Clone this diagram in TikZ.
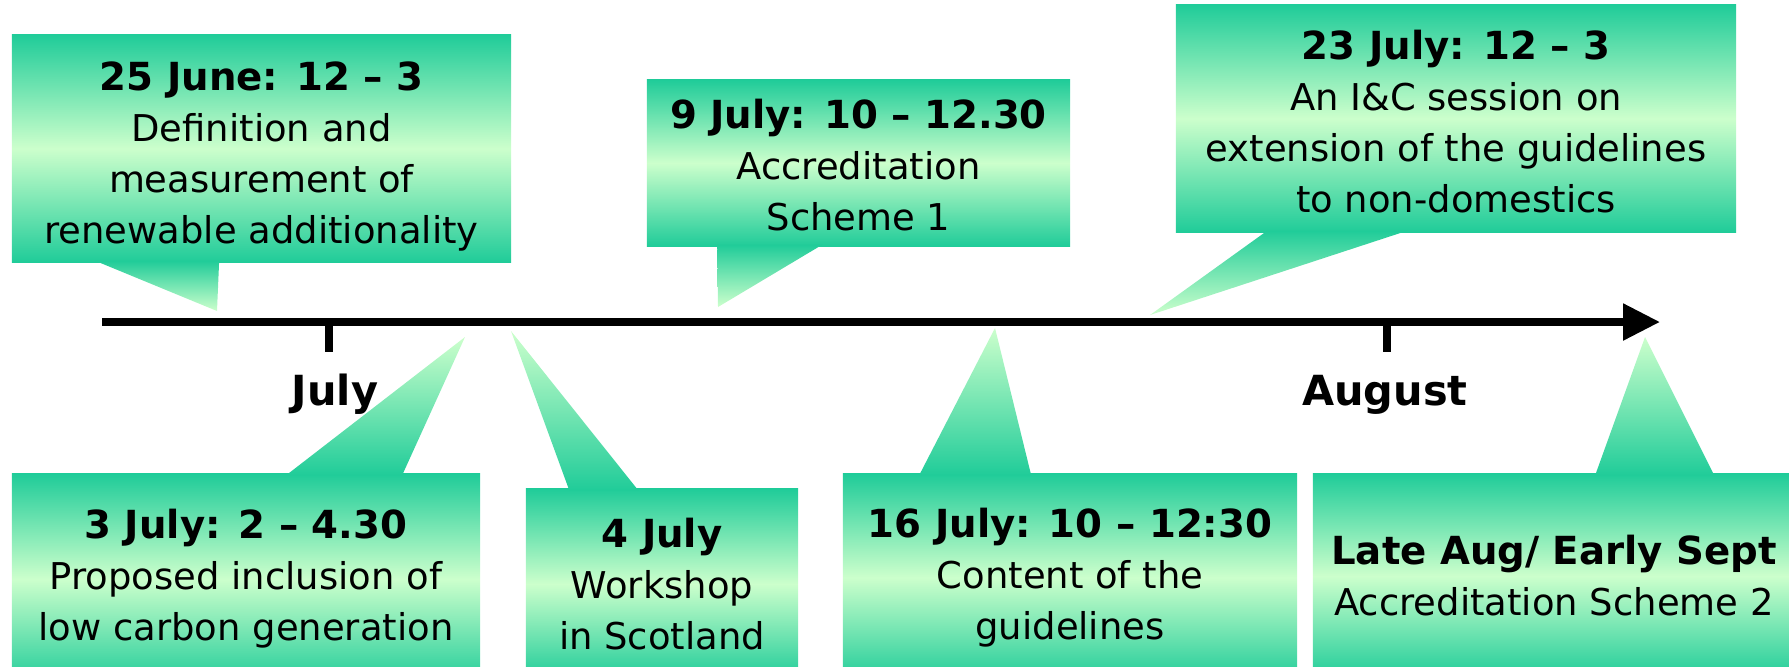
\documentclass[tikz,border=0pt]{standalone}
\usepackage{fontspec}
\setmainfont{DejaVu Sans}
\usetikzlibrary{arrows.meta,calc}
\definecolor{calloutdark}{RGB}{32,204,153}
\definecolor{calloutlight}{RGB}{204,255,204}
\newcommand{\when}[1]{{\fontsize{11}{14.5}\selectfont\bfseries #1}}

\begin{document}
\begin{tikzpicture}[x=0.01cm, y=-0.01cm,
    callout/.style={inner sep=0pt, align=center, top color=calloutdark,
        bottom color=calloutdark, middle color=calloutlight,
        font=\fontsize{10.5}{14.5}\selectfont},
    tailup/.style={top color=calloutdark, bottom color=calloutlight},
    taildown/.style={top color=calloutlight, bottom color=calloutdark},
    month/.style={anchor=base, font=\fontsize{11.8}{14}\selectfont\bfseries},
    axisline/.style={line width=2.2pt}]

    \useasboundingbox (0,0) rectangle (1789,666);
    \clip (0,0) rectangle (1789,666);

    \coordinate (tipjune) at (217,311);
    \coordinate (tipninth) at (718,307);
    \coordinate (tiptwentythird) at (1150,315);
    \coordinate (tipthird) at (465,337);
    \coordinate (tipfourth) at (511,331);
    \coordinate (tipsixteenth) at (995,328);
    \coordinate (tiplate) at (1645,337);

    \node[callout, minimum width=4.99cm, minimum height=2.27cm] (june) at (261.5,148.5)
        {\rule{0pt}{12.6pt}\when{25 June: 12 -- 3}\\Definition and\\measurement of\\renewable additionality};
    \node[callout, minimum width=4.23cm, minimum height=1.66cm] (ninth) at (858.5,163)
        {\rule{0pt}{9.6pt}\when{9 July: 10 -- 12.30}\\Accreditation\\Scheme 1};
    \node[callout, minimum width=5.60cm, minimum height=2.27cm] (twentythird) at (1456,118.5)
        {\rule{0pt}{10pt}\when{23 July: 12 -- 3}\\An I\&C session on\\extension of the guidelines\\to non-domestics};
    \node[callout, minimum width=4.68cm, minimum height=2.10cm] (third) at (246,579)
        {\when{3 July: 2 -- 4.30}\\Proposed inclusion of\\low carbon generation};
    \node[callout, minimum width=2.72cm, minimum height=1.90cm] (fourth) at (662,584)
        {\when{4 July}\\Workshop\\in Scotland};
    \node[callout, minimum width=4.54cm, minimum height=2.07cm] (sixteenth) at (1070,577.5)
        {\when{16 July: 10 -- 12:30}\\Content of the\\guidelines};
    \node[callout, minimum width=4.82cm, minimum height=2.04cm] (late) at (1554,576)
        {\when{Late Aug/ Early Sept}\\Accreditation Scheme 2};

    \shade[tailup] ($(june.south west)+(84,-2)$) -- ($(june.south west)+(208,-2)$) -- (tipjune) -- cycle;
    \shade[tailup] ($(ninth.south west)+(71,-2)$) -- ($(ninth.south west)+(176,-2)$) -- (tipninth) -- cycle;
    \shade[tailup] ($(twentythird.south west)+(92,-2)$) -- ($(twentythird.south west)+(232,-2)$) -- (tiptwentythird) -- cycle;
    \shade[taildown] ($(third.north west)+(275,2)$) -- ($(third.north west)+(391,2)$) -- (tipthird) -- cycle;
    \shade[taildown] ($(fourth.north west)+(44,2)$) -- ($(fourth.north west)+(113,2)$) -- (tipfourth) -- cycle;
    \shade[taildown] ($(sixteenth.north west)+(77,2)$) -- ($(sixteenth.north west)+(189,2)$) -- (tipsixteenth) -- cycle;
    \shade[taildown] ($(late.north west)+(283,2)$) -- ($(late.north west)+(402,2)$) -- (tiplate) -- cycle;

    \coordinate (axstart) at (102,322);
    \coordinate (axend) at (1660,322);
    \coordinate (tickjuly) at (329,322);
    \coordinate (tickaugust) at (1387,322);
    \draw[axisline, -{Triangle[length=10.5pt, width=10pt]}] (axstart) -- (axend);
    \draw[axisline] (tickjuly) -- ++(0,30);
    \draw[axisline] (tickaugust) -- ++(0,30);

    \node[month] (july) at (335,405) {July};
    \node[month] (august) at (1385,405) {August};
\end{tikzpicture}
\end{document}
